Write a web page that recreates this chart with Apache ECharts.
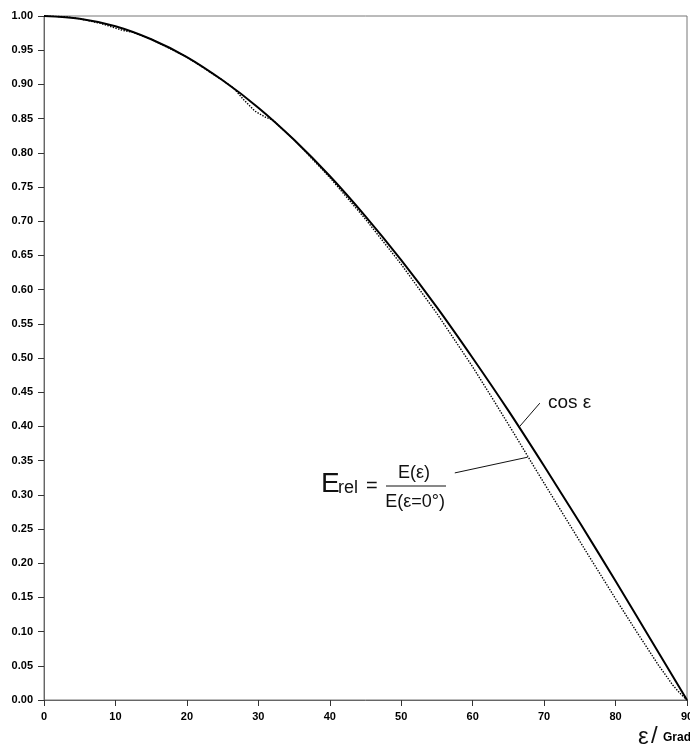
<!DOCTYPE html>
<html>
<head>
<meta charset="utf-8">
<script src="https://cdn.jsdelivr.net/npm/echarts@6/dist/echarts.min.js"></script>
<style>
html,body{margin:0;padding:0;background:#fff;overflow:hidden;}
#chart{width:690px;height:747px;}
</style>
</head>
<body>
<div id="chart"></div>
<script>
// ---- data ----
const epsCos = [0, 5, 10, 15, 20, 25, 30, 35, 40, 45, 50, 55, 60, 65, 70, 75, 80, 85, 90];
const cosVals = [1.000, 0.996, 0.985, 0.966, 0.940, 0.906, 0.866, 0.819, 0.766, 0.707, 0.643, 0.574, 0.500, 0.423, 0.342, 0.259, 0.174, 0.087, 0.000];

const epsMeas = [0, 3, 5, 8, 9.5, 11, 12.5, 15, 20, 25, 26.5, 28, 29.5, 31, 32, 35, 40, 45, 50, 55, 60, 63, 66, 69, 72, 76, 80, 83, 86, 88, 89, 90];
const relMeas = [1.000, 0.999, 0.996, 0.989, 0.984, 0.979, 0.976, 0.966, 0.940, 0.906, 0.895, 0.877, 0.861, 0.852, 0.848, 0.819, 0.764, 0.703, 0.637, 0.565, 0.487, 0.437, 0.386, 0.334, 0.283, 0.215, 0.148, 0.099, 0.051, 0.022, 0.010, 0.000];

// leader lines of the annotations (data coordinates)
const leaderCos = [[69.4, 0.434], [66.5, 0.399]];
const leaderRel = [[57.5, 0.332], [67.7, 0.355]];

const xMin = 0, xMax = 90, xStep = 10;
const yMin = 0, yMax = 1, yStep = 0.05;

const zip = (a, b) => a.map((v, i) => [v, b[i]]);

const chart = echarts.init(document.getElementById('chart'), null, {renderer: 'canvas'});
const hand = '"Liberation Sans", Arial, sans-serif';

chart.setOption({
  animation: false,
  backgroundColor: '#fff',
  grid: {left: 44, right: 3, top: 16, bottom: 47, show: true, borderColor: '#777', borderWidth: 1,
    containLabel: false, outerBoundsMode: 'none'},
  xAxis: {
    type: 'value', min: xMin, max: xMax, interval: xStep,
    axisLine: {show: true, lineStyle: {color: '#666', width: 1}},
    axisTick: {show: true, length: 6, lineStyle: {color: '#333'}},
    splitLine: {show: false},
    axisLabel: {color: '#000', fontSize: 11, fontWeight: 'bold', fontFamily: 'Liberation Sans, Arial', margin: 11,
      hideOverlap: false}
  },
  yAxis: {
    type: 'value', min: yMin, max: yMax, interval: yStep,
    axisLine: {show: true, lineStyle: {color: '#666', width: 1}},
    axisTick: {show: true, length: 6, lineStyle: {color: '#333'}},
    splitLine: {show: false},
    axisLabel: {color: '#000', fontSize: 11, fontWeight: 'bold', fontFamily: 'Liberation Sans, Arial', margin: 11,
      formatter: v => v.toFixed(2)}
  },
  series: [
    {
      name: 'cos ε', type: 'line', data: zip(epsCos, cosVals), smooth: 0.3,
      showSymbol: false, lineStyle: {color: '#000', width: 2},
      markLine: {silent: true, symbol: 'none', label: {show: false},
        lineStyle: {color: '#111', width: 1, type: 'solid'},
        data: [[{coord: leaderCos[0]}, {coord: leaderCos[1]}]]}
    },
    {
      name: 'E_rel', type: 'line', data: zip(epsMeas, relMeas), smooth: false,
      showSymbol: false, lineStyle: {color: '#000', width: 1.4, type: [1.4, 1.4]},
      markLine: {silent: true, symbol: 'none', label: {show: false},
        lineStyle: {color: '#111', width: 1, type: 'solid'},
        data: [[{coord: leaderRel[0]}, {coord: leaderRel[1]}]]}
    }
  ],
  graphic: [
    {type: 'text', x: 548, y: 403, style: {text: 'cos ε', fontSize: 19, fontFamily: hand, fill: '#111', verticalAlign: 'middle'}},
    {type: 'text', x: 321, y: 484, style: {text: 'E', fontSize: 28, fontFamily: hand, fill: '#111', verticalAlign: 'middle'}},
    {type: 'text', x: 338, y: 488, style: {text: 'rel', fontSize: 18, fontFamily: hand, fill: '#111', verticalAlign: 'middle'}},
    {type: 'text', x: 366, y: 486, style: {text: '=', fontSize: 20, fontFamily: hand, fill: '#111', verticalAlign: 'middle'}},
    {type: 'line', shape: {x1: 386, y1: 486, x2: 446, y2: 486}, style: {stroke: '#111', lineWidth: 1}},
    {type: 'text', x: 414, y: 473, style: {text: 'E(ε)', fontSize: 18, fontFamily: hand, fill: '#111', align: 'center', verticalAlign: 'middle'}},
    {type: 'text', x: 415, y: 502, style: {text: 'E(ε=0°)', fontSize: 18, fontFamily: hand, fill: '#111', align: 'center', verticalAlign: 'middle'}},
    {type: 'text', x: 638, y: 737, style: {text: 'ε', fontSize: 24, fontFamily: hand, fill: '#111', verticalAlign: 'middle'}},
    {type: 'text', x: 651, y: 736, style: {text: '/', fontSize: 24, fontFamily: hand, fill: '#111', verticalAlign: 'middle'}},
    {type: 'text', x: 663, y: 738, style: {text: 'Grad', fontSize: 12, fontWeight: 'bold', fontFamily: 'Liberation Sans, Arial', fill: '#000', verticalAlign: 'middle'}}
  ]
});
</script>
</body>
</html>
